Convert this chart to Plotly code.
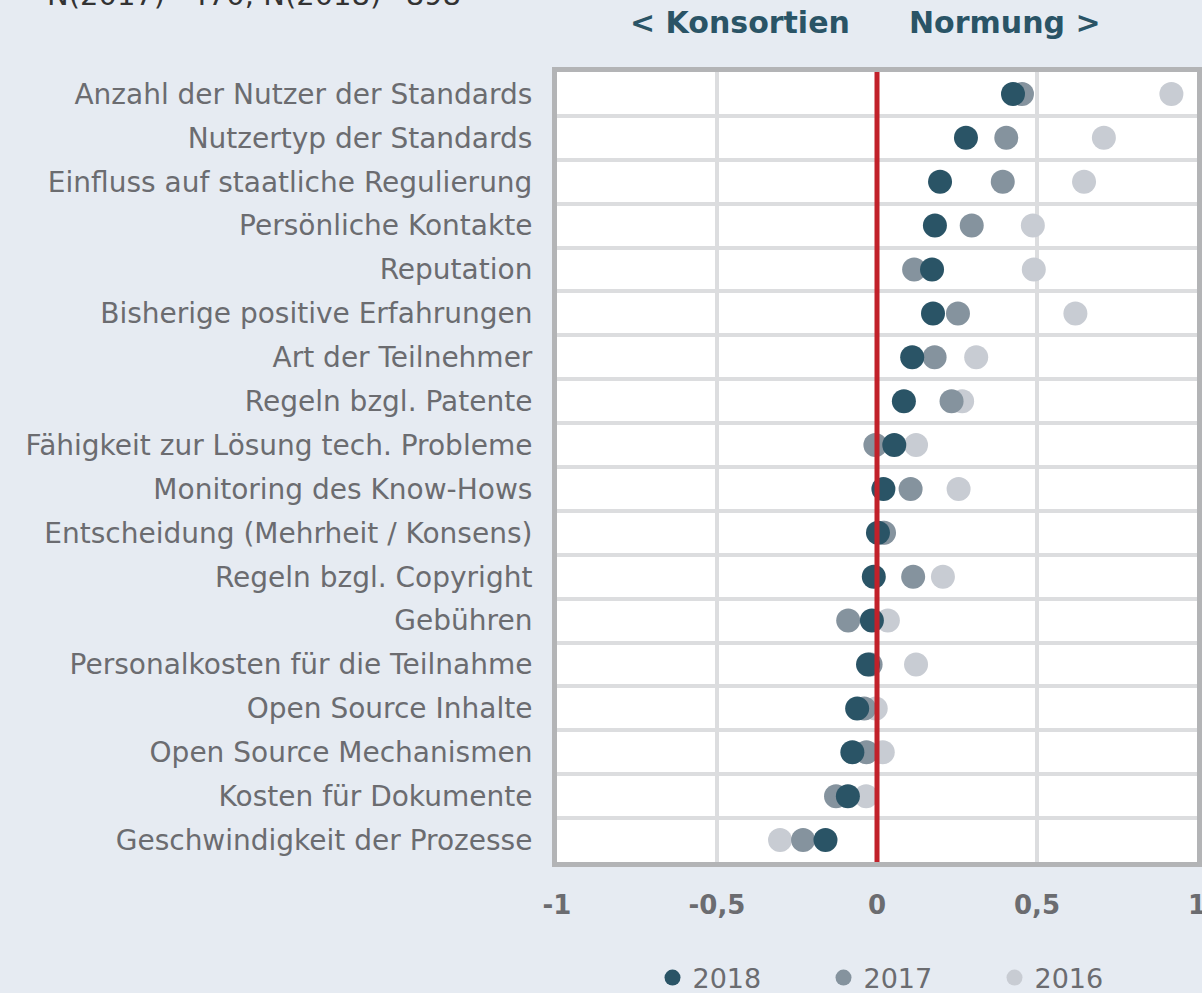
import plotly.graph_objects as go

categories = [
    "Anzahl der Nutzer der Standards",
    "Nutzertyp der Standards",
    "Einfluss auf staatliche Regulierung",
    "Persönliche Kontakte",
    "Reputation",
    "Bisherige positive Erfahrungen",
    "Art der Teilnehmer",
    "Regeln bzgl. Patente",
    "Fähigkeit zur Lösung tech. Probleme",
    "Monitoring des Know-Hows",
    "Entscheidung (Mehrheit / Konsens)",
    "Regeln bzgl. Copyright",
    "Gebühren",
    "Personalkosten für die Teilnahme",
    "Open Source Inhalte",
    "Open Source Mechanismen",
    "Kosten für Dokumente",
    "Geschwindigkeit der Prozesse",
]

values_2018 = [0.425, 0.278, 0.197, 0.181, 0.172, 0.175, 0.11, 0.084, 0.054, 0.02,
               0.003, -0.01, -0.016, -0.028, -0.062, -0.077, -0.091, -0.161]
values_2017 = [0.453, 0.404, 0.393, 0.296, 0.116, 0.253, 0.18, 0.233, -0.005, 0.105,
               0.022, 0.113, -0.09, -0.02, -0.04, -0.033, -0.128, -0.231]
values_2016 = [0.92, 0.709, 0.647, 0.487, 0.49, 0.62, 0.31, 0.266, 0.122, 0.255,
               0.02, 0.206, 0.034, 0.122, -0.004, 0.018, -0.034, -0.303]

x_ticks = [-1, -0.5, 0, 0.5, 1]
x_ticktext = ["<b>-1</b>", "<b>-0,5</b>", "<b>0</b>", "<b>0,5</b>", "<b>1</b>"]

FONT = "DejaVu Sans"
GRAY_TEXT = "#6b6c70"
TEAL = "#2a5466"

fig = go.Figure()
for name, vals, color in [("2016", values_2016, "#c8ccd3"),
                          ("2017", values_2017, "#85939e"),
                          ("2018", values_2018, TEAL)]:
    fig.add_trace(go.Scatter(
        x=vals, y=categories, mode="markers", name=name,
        marker=dict(size=24, color=color, line=dict(width=0)),
        legendrank={"2018": 1, "2017": 2, "2016": 3}[name],
    ))

fig.add_vline(x=0, line=dict(color="#c1212a", width=5), layer="above")

fig.update_layout(
    width=1202, height=993,
    paper_bgcolor="#e6ebf2", plot_bgcolor="#ffffff",
    margin=dict(l=557, r=5, t=72, b=131, autoexpand=False),
    font=dict(family=FONT, color=GRAY_TEXT),
    showlegend=True,
    legend=dict(orientation="h", x=0.55, xanchor="center", y=-(978 - 862) / 790,
                yanchor="middle",
                font=dict(size=27, color=GRAY_TEXT), bgcolor="rgba(0,0,0,0)",
                itemsizing="trace", traceorder="normal", entrywidth=126),
    annotations=[
        dict(text="<b>&lt; Konsortien</b>", x=-0.428, xref="x", y=1 + 50 / 790, yref="paper",
             yanchor="middle", showarrow=False, font=dict(size=30, color=TEAL, family=FONT)),
        dict(text="<b>Normung &gt;</b>", x=0.4, xref="x", y=1 + 50 / 790, yref="paper",
             yanchor="middle", showarrow=False, font=dict(size=30, color=TEAL, family=FONT)),
        dict(text="N(2017)=470, N(2018)=898", x=(45 - 557) / 640, xref="paper",
             xanchor="left", y=1 + (72 - 14) / 790, yref="paper", yanchor="bottom",
             showarrow=False, font=dict(size=29, color="#333333", family=FONT)),
    ],
)

fig.update_xaxes(
    range=[-1, 1], tickvals=x_ticks, ticktext=x_ticktext,
    tickfont=dict(size=26, color=GRAY_TEXT, family=FONT), ticks="",
    showgrid=True, gridcolor="#dcdddf", gridwidth=4,
    showline=True, mirror=True, linecolor="#b3b4b6", linewidth=5,
    zeroline=False, ticklabelstandoff=16, ticklabeloverflow="allow",
)
fig.update_yaxes(
    type="category", categoryorder="array", categoryarray=categories,
    range=[len(categories) - 0.5, -0.5],
    tickson="boundaries", showgrid=True, gridcolor="#dcdddf", gridwidth=4,
    tickfont=dict(size=28, color=GRAY_TEXT, family=FONT), ticks="",
    showline=True, mirror=True, linecolor="#b3b4b6", linewidth=5,
    zeroline=False, ticklabelstandoff=14,
)

fig.write_html("out.html", config={"displayModeBar": False},
               post_script="document.body.style.margin='0';")
